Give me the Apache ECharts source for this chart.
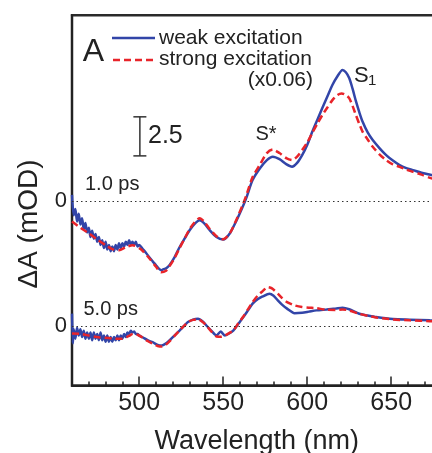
<!DOCTYPE html>
<html><head><meta charset="utf-8">
<script src="https://cdn.jsdelivr.net/npm/echarts@6/dist/echarts.min.js"></script>
<style>html,body{margin:0;padding:0;background:#fff}#c{width:432px;height:453px}</style>
</head><body><div id="c"></div>
<script>
// ---- data (ΔA in mOD vs wavelength in nm) ----
const xTickLabels = [500, 550, 600, 650];
const OFFSET_1PS = 8;          // vertical offset of the 1.0 ps traces (mOD)
const zeroLabelValues = [0, OFFSET_1PS];
const SCALE_BAR = 2.5;
const SCALE_BAR_BASE = 10.9;
const SCALE_BAR_WL = 500.4;

const weak1ps = [[460,0.4],[461,-0.9],[462,-0.5],[463,-1.3],[464,-0.8],[465,-1.5],[466,-1.1],[467,-1.8],[468,-1.4],[469,-2.0],[470,-1.7],[471,-2.3],[472,-1.9],[473,-2.4],[474,-2.1],[475,-2.6],[476,-2.3],[477,-2.8],[478,-2.5],[479,-3.0],[480,-2.6],[481,-3.1],[482,-2.8],[483,-3.2],[484,-2.9],[485,-3.2],[486,-2.8],[487,-3.1],[488,-2.7],[489,-3.0],[490,-2.7],[491,-2.9],[492,-2.6],[493,-2.8],[494,-2.5],[495,-2.8],[496,-2.6],[497,-2.8],[498,-2.6],[499,-2.9],[500,-2.8],[502,-3.05],[504,-3.3],[506,-3.59],[508,-3.85],[510,-4.1],[511.5,-4.3],[513,-4.42],[514.5,-4.35],[516,-4.3],[518,-4.1],[521,-3.6],[524,-2.95],[527,-2.4],[530,-1.86],[533,-1.45],[536,-1.22],[539,-1.45],[542,-1.86],[546,-2.29],[550,-2.46],[554,-2.05],[558,-1.22],[562,-0.26],[564,0.28],[567.5,1.35],[572,2.12],[576,2.63],[579.5,2.85],[583.5,2.69],[587.5,2.37],[591,2.21],[594,2.45],[597,2.95],[600,3.6],[603,4.44],[606,5.2],[609,5.96],[612,6.7],[615,7.44],[618,8.0],[621,8.4],[623,8.25],[625,7.88],[627,7.2],[629,6.4],[631,5.7],[633,5.08],[636,4.4],[639,3.91],[643,3.4],[647,2.95],[651,2.6],[655,2.31],[659,2.12],[663,1.99],[668,1.82],[674,1.67],[680,1.55]];

const strong1ps = [[460,-1.30],[465,-1.70],[470,-2.05],[475,-2.45],[480,-2.81],[484,-3.07],[488,-3.14],[492,-2.95],[496,-2.82],[501,-3.08],[506,-3.65],[510,-4.2],[513,-4.55],[516,-4.45],[518,-4.17],[521,-3.65],[524,-3.01],[527,-2.4],[530,-1.79],[533,-1.35],[536,-1.09],[539,-1.35],[542,-1.79],[546,-2.24],[550,-2.44],[554,-2.05],[558,-1.15],[562,-0.13],[564,0.45],[567.5,1.54],[572,2.37],[576,3.08],[579.5,3.31],[583.5,3.08],[587.5,2.76],[591,2.63],[594,2.85],[597,3.27],[600,3.75],[603,4.36],[606,4.95],[609,5.51],[612,6.0],[615,6.47],[618,6.8],[620.5,6.90],[623,6.80],[625,6.60],[627,6.1],[629,5.51],[631,4.95],[633,4.44],[636,3.95],[639,3.48],[643,3.0],[647,2.63],[651,2.35],[655,2.20],[659,2.02],[663,1.88],[668,1.70],[674,1.46],[680,1.35]];

const weak5ps = [[460,0.8],[460.5,-1.1],[461,-0.2],[462,-0.8],[463,-0.1],[464,-0.6],[465,-0.2],[466,-0.7],[467,-0.3],[468,-0.8],[469,-0.4],[470,-0.8],[471,-0.4],[472,-0.9],[473,-0.4],[474,-0.8],[475,-0.5],[476,-0.9],[477,-0.4],[478,-0.9],[479,-0.6],[480,-1.0],[481,-0.6],[482,-1.0],[483,-0.7],[484,-1.0],[485,-0.7],[486,-0.9],[487,-0.6],[488,-0.9],[489,-0.6],[490,-0.8],[491,-0.5],[492,-0.7],[493,-0.4],[494,-0.5],[495,-0.3],[496,-0.4],[497,-0.35],[498,-0.5],[499,-0.5],[500,-0.6],[502,-0.71],[505,-0.9],[508,-1.03],[511,-1.2],[513.5,-1.24],[516,-1.1],[518,-0.92],[521,-0.6],[524,-0.28],[527,0.05],[529,0.26],[532,0.42],[535,0.47],[538,0.28],[540,0.04],[543,-0.3],[546,-0.60],[548.5,-0.34],[551,-0.60],[553,-0.5],[556,-0.28],[559,0.15],[562,0.58],[565,1.05],[567.5,1.44],[570.5,1.72],[573.5,1.90],[577.5,2.08],[580,1.95],[582.5,1.65],[585,1.38],[588,1.12],[592.5,0.83],[597,0.86],[601,0.93],[605.5,1.01],[611.5,1.07],[617,1.13],[621,1.18],[625,1.08],[631,0.79],[636,0.68],[641,0.58],[651,0.45],[661,0.41],[673,0.37],[680,0.35]];

const strong5ps = [[460,-0.47],[465,-0.49],[470,-0.60],[476,-0.71],[484,-0.79],[490,-0.81],[494,-0.62],[496.5,-0.49],[499,-0.55],[502,-0.73],[505,-0.95],[508,-1.12],[511,-1.27],[513.5,-1.31],[516,-1.18],[518,-0.98],[521,-0.62],[524,-0.28],[527,0.05],[529,0.26],[532,0.40],[535,0.43],[538,0.25],[540,0.04],[543,-0.35],[546,-0.66],[549,-0.68],[551,-0.60],[553,-0.48],[556,-0.28],[559,0.18],[562,0.62],[565,1.12],[567.5,1.54],[570.5,1.95],[573.5,2.24],[576.5,2.50],[579,2.42],[582.5,2.08],[585,1.80],[588,1.54],[592.5,1.33],[597,1.22],[601,1.18],[605.5,1.15],[611.5,1.05],[617,1.04],[621,1.07],[625,1.0],[631,0.79],[636,0.66],[641,0.56],[651,0.43],[661,0.37],[673,0.32],[680,0.30]];

// ---- styles ----
const BLUE = '#3245a8';
const RED = '#e8242a';
const INK = '#222';
const FONT = '"Liberation Sans", Arial, Helvetica, sans-serif';

const chart = echarts.init(document.getElementById('c'), null, {renderer: 'canvas'});
const shift = (arr, d) => arr.map(p => [p[0], p[1] + d]);

const lineBase = {type: 'line', showSymbol: false, symbol: 'none', smooth: 0.25, xAxisIndex: 0, yAxisIndex: 0, silent: true};

const option = {
  animation: false,
  backgroundColor: '#fff',
  grid: {left: 72, right: -9.6, top: 15.3, bottom: 67.5, show: true, borderColor: '#2a2a2a', borderWidth: 2.5,
         containLabel: false, outerBoundsMode: 'none'},
  xAxis: [
    {type: 'value', min: 460, max: 680, interval: 10, position: 'bottom',
     axisLine: {show: true, onZero: false, lineStyle: {color: INK, width: 2}},
     axisTick: {show: true, inside: true, length: 4, lineStyle: {color: INK, width: 1.5}},
     axisLabel: {show: true, customValues: xTickLabels, margin: 5, fontSize: 25, color: INK, fontFamily: FONT},
     splitLine: {show: false},
     name: 'Wavelength (nm)', nameLocation: 'middle', nameGap: 42.5,
     nameTextStyle: {fontSize: 27, color: INK, fontFamily: FONT}},
    {type: 'value', min: 460, max: 680, position: 'bottom', gridIndex: 0,
     axisLine: {show: false, onZero: false},
     axisTick: {show: true, inside: true, length: 9, customValues: xTickLabels, lineStyle: {color: INK, width: 1.5}},
     axisLabel: {show: false}, splitLine: {show: false}}
  ],
  yAxis: {type: 'value', min: -3.8, max: 19.9,
    axisLine: {show: true, onZero: false, lineStyle: {color: INK, width: 2}},
    axisTick: {show: false}, splitLine: {show: false},
    axisLabel: {customValues: zeroLabelValues, formatter: () => '0', margin: 5, fontSize: 22, color: INK, fontFamily: FONT}},
  series: [
    Object.assign({}, lineBase, {name: 'weak 1.0 ps', data: shift(weak1ps, OFFSET_1PS), z: 3,
      lineStyle: {color: BLUE, width: 2.5},
      markLine: {silent: true, symbol: 'none', label: {show: false}, animation: false,
        lineStyle: {type: [1.5, 3], color: '#333', width: 1.2},
        data: [{yAxis: OFFSET_1PS}, {yAxis: 0}]}}),
    Object.assign({}, lineBase, {name: 'strong 1.0 ps', data: shift(strong1ps, OFFSET_1PS), z: 4,
      lineStyle: {color: RED, width: 2.5, type: [7, 4]}}),
    Object.assign({}, lineBase, {name: 'weak 5.0 ps', data: weak5ps, z: 3,
      lineStyle: {color: BLUE, width: 2.5}}),
    Object.assign({}, lineBase, {name: 'strong 5.0 ps', data: strong5ps, z: 4,
      lineStyle: {color: RED, width: 2.5, type: [7, 4]}})
  ]
};
chart.setOption(option);

// annotations
const finder = {xAxisIndex: 0, yAxisIndex: 0};
const sbBot = chart.convertToPixel(finder, [SCALE_BAR_WL, SCALE_BAR_BASE]);
const sbTop = chart.convertToPixel(finder, [SCALE_BAR_WL, SCALE_BAR_BASE + SCALE_BAR]);
const txt = (x, y, text, size, align) => ({type: 'text', x: x, y: y, silent: true, z: 10,
  style: {text: text, fontSize: size, fontFamily: FONT, fill: INK, align: align || 'left', verticalAlign: 'middle'}});
const ln = (x1, y1, x2, y2, stroke, w, dash) => ({type: 'line', silent: true, z: 10,
  shape: {x1: x1, y1: y1, x2: x2, y2: y2}, style: {stroke: stroke, lineWidth: w, lineDash: dash || null}});

chart.setOption({graphic: [
  txt(93.5, 52, 'A', 32, 'center'),
  ln(112, 38, 155, 38, BLUE, 2.5),
  ln(113, 60, 155, 60, RED, 2.5, [7, 4]),
  txt(159, 38, 'weak excitation', 21),
  txt(159, 59.5, 'strong excitation', 21),
  txt(313, 80, '(x0.06)', 21, 'right'),
  txt(354, 76.4, 'S', 22),
  txt(368, 80.8, '1', 15),
  txt(266, 134.8, 'S*', 20, 'center'),
  txt(85, 184.8, '1.0 ps', 20),
  txt(83.5, 309.8, '5.0 ps', 20),
  txt(148, 136.3, '2.5', 25),
  ln(sbBot[0], sbBot[1], sbTop[0], sbTop[1], '#333', 1.5),
  ln(sbBot[0] - 6.5, sbBot[1], sbBot[0] + 6.5, sbBot[1], '#333', 1.5),
  ln(sbTop[0] - 6.5, sbTop[1], sbTop[0] + 6.5, sbTop[1], '#333', 1.5),
  {type: 'text', x: 29, y: 224, rotation: Math.PI / 2, silent: true, z: 10,
   style: {text: 'ΔA (mOD)', fontSize: 28, fontFamily: FONT, fill: INK, align: 'center', verticalAlign: 'middle'}}
]});
</script>
</body></html>
